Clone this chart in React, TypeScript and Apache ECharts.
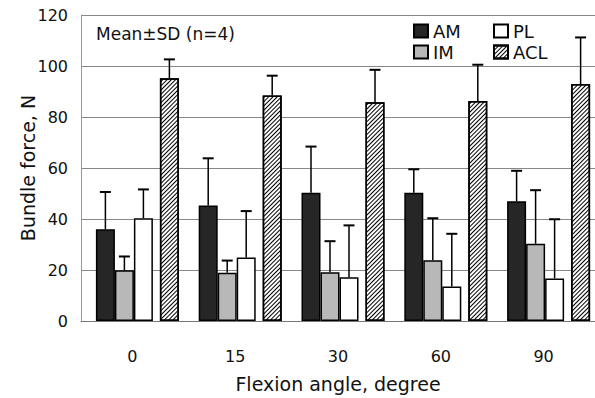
import React, { useEffect, useRef } from "react";
import * as echarts from "echarts";

const categories = ["0", "15", "30", "60", "90"];
const seriesNames = ["AM", "IM", "PL", "ACL"];
const amMean = [36.0, 45.3, 50.3, 50.3, 47.0];
const amSD = [14.6, 18.5, 18.1, 9.2, 11.9];
const imMean = [19.9, 18.9, 19.1, 23.8, 30.3];
const imSD = [5.4, 4.8, 12.2, 16.5, 21.0];
const plMean = [40.3, 24.9, 17.2, 13.5, 16.7];
const plSD = [11.3, 18.2, 20.3, 20.7, 23.2];
const aclMean = [95.2, 88.4, 85.8, 86.3, 92.9];
const aclSD = [7.4, 7.8, 12.7, 14.2, 18.3];
const yTicks = [0, 20, 40, 60, 80, 100, 120];

const FONT = "DejaVu Sans";
const BW = 19;
const LEAD = 10;
const GAP = 7;

export default function App() {
  const ref = useRef<HTMLDivElement>(null);
  useEffect(() => {
    if (!ref.current) return;
    const chart = echarts.init(ref.current, undefined, { renderer: "svg" });
    const means = [amMean, imMean, plMean, aclMean];
    const sds = [amSD, imSD, plSD, aclSD];
    const total = LEAD + 4 * BW + GAP;
    const start = -total / 2;
    const offsets = [
      start + LEAD + BW / 2,
      start + LEAD + BW + BW / 2,
      start + LEAD + 2 * BW + BW / 2,
      start + LEAD + 3 * BW + GAP + BW / 2,
    ];
    const errData: number[][] = [];
    means.forEach((m, g) => {
      m.forEach((v, i) => errData.push([i, g, v, sds[g][i]]));
    });
    const border = { borderColor: "#000", borderWidth: 1.5 };
    const dummy = (name: string, w: number) => ({
      name,
      type: "bar",
      barWidth: w,
      barGap: "0%",
      data: categories.map(() => 0),
      itemStyle: { color: "transparent", borderWidth: 0 },
      silent: true,
    });
    const bar = (name: string, data: number[], itemStyle: any) => ({
      name,
      type: "bar",
      barWidth: BW,
      barGap: "0%",
      data,
      itemStyle: { ...border, ...itemStyle },
    });
    const legendBase = {
      orient: "vertical",
      top: 22,
      padding: 0,
      itemWidth: 14,
      itemHeight: 13,
      itemGap: 3,
      itemTextGap: 9,
      icon: "rect",
      textStyle: { fontSize: 18, fontFamily: FONT, color: "#111" },
    };
    chart.setOption({
      animation: false,
      backgroundColor: "#fff",
      textStyle: { fontFamily: FONT },
      grid: { left: 81, top: 15, width: 515, height: 318 },
      legend: [
        { ...legendBase, left: 413, data: ["AM", "IM"] },
        { ...legendBase, left: 493, data: ["PL", "ACL"] },
      ],
      graphic: [
        {
          type: "text",
          x: 96,
          y: 34,
          style: {
            text: "Mean±SD (n=4)",
            fontSize: 17,
            fontFamily: FONT,
            fill: "#111",
            verticalAlign: "middle",
          },
        },
      ],
      xAxis: {
        type: "category",
        data: categories,
        name: "Flexion angle, degree",
        nameLocation: "middle",
        nameGap: 53,
        nameMoveOverlap: false,
        nameTextStyle: { fontSize: 19, fontFamily: FONT, color: "#111" },
        axisLine: { lineStyle: { color: "#777", width: 1 } },
        axisTick: { inside: true, length: 4, lineStyle: { color: "#888" } },
        axisLabel: { fontSize: 16, fontFamily: FONT, color: "#111", margin: 27 },
      },
      yAxis: {
        type: "value",
        min: 0,
        max: 120,
        interval: 20,
        name: "Bundle force, N",
        nameLocation: "middle",
        nameGap: 44,
        nameMoveOverlap: false,
        nameTextStyle: { fontSize: 19, fontFamily: FONT, color: "#111" },
        axisLine: { show: true, lineStyle: { color: "#999", width: 1 } },
        axisTick: { show: false },
        axisLabel: {
          fontSize: 16,
          fontFamily: FONT,
          color: "#111",
          margin: 13,
          formatter: (v: number) => (yTicks.includes(v) ? String(v) : ""),
        },
        splitLine: { show: true, lineStyle: { color: "#888", width: 1 } },
      },
      series: [
        dummy("lead", LEAD),
        bar(seriesNames[0], amMean, { color: "#262626" }),
        bar(seriesNames[1], imMean, { color: "#b8b8b8" }),
        bar(seriesNames[2], plMean, { color: "#ffffff" }),
        dummy("gap", GAP),
        bar(seriesNames[3], aclMean, {
          color: "#ffffff",
          decal: {
            symbol: "rect",
            symbolSize: 1,
            dashArrayX: [1, 0],
            dashArrayY: [1, 2],
            rotation: -Math.PI / 4,
            color: "#000",
            backgroundColor: "#fff",
          },
        }),
        {
          name: "err",
          type: "custom",
          data: errData,
          encode: { x: 0, y: 2 },
          z: 5,
          silent: true,
          renderItem: (params: any, api: any) => {
            const ci = api.value(0);
            const g = api.value(1);
            const m = api.value(2);
            const s = api.value(3);
            const base = api.coord([ci, m]);
            const top = api.coord([ci, m + s]);
            const cx = base[0] + offsets[g];
            return {
              type: "group",
              children: [
                {
                  type: "line",
                  shape: { x1: cx, y1: base[1], x2: cx, y2: top[1] },
                  style: { stroke: "#000", lineWidth: 1.5 },
                },
                {
                  type: "line",
                  shape: { x1: cx - 5.5, y1: top[1], x2: cx + 5.5, y2: top[1] },
                  style: { stroke: "#000", lineWidth: 2 },
                },
              ],
            };
          },
        },
      ],
    });
    return () => chart.dispose();
  }, []);
  return (
    <div
      ref={ref}
      style={{ position: "fixed", left: 0, top: 0, width: 595, height: 398 }}
    />
  );
}
